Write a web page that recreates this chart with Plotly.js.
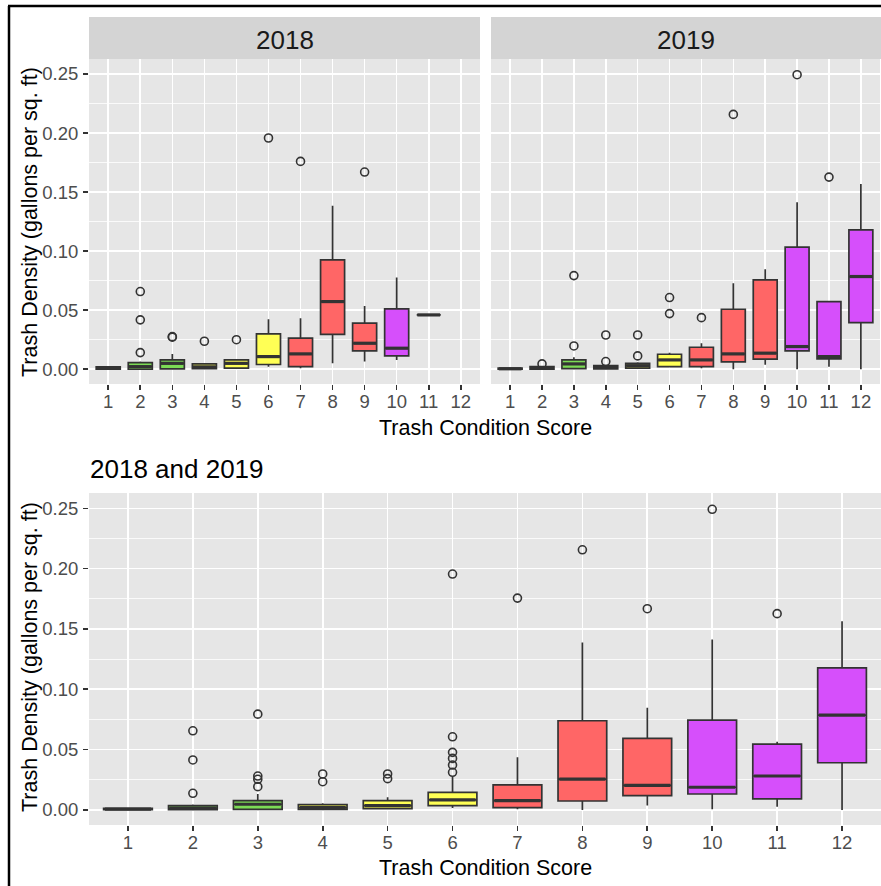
<!DOCTYPE html>
<html>
<head>
<meta charset="utf-8">
<script src="https://cdn.plot.ly/plotly-3.0.1.min.js"></script>
<style>
  html, body { margin: 0; padding: 0; background: #ffffff; }
  #chart { width: 881px; height: 886px; }
</style>
</head>
<body>
<div id="chart"></div>
<script>
// ---------------- data ----------------
const tickLabels = ['1','2','3','4','5','6','7','8','9','10','11','12'];

// 2018 (scores 1-11)
const s2018   = [1, 2, 3, 4, 5, 6, 7, 8, 9, 10, 11];
const lo2018  = [0, 0, 0, 0, 0.0005, 0.0022, 0.0008, 0.005, 0.0065, 0.0079, 0.046];
const q1_2018 = [0, 0, 0.0003, 0.0005, 0.001, 0.004, 0.0022, 0.0296, 0.0155, 0.0113, 0.046];
const md2018  = [0.001, 0.0022, 0.005, 0.002, 0.005, 0.0107, 0.013, 0.0573, 0.022, 0.0178, 0.046];
const q3_2018 = [0.002, 0.0056, 0.0079, 0.0045, 0.0079, 0.0299, 0.0263, 0.0926, 0.039, 0.0511, 0.046];
const hi2018  = [0.0025, 0.0065, 0.013, 0.005, 0.0085, 0.0424, 0.0432, 0.1384, 0.0536, 0.0776, 0.046];
const out2018X = [2, 2, 2, 3, 3, 4, 5, 6, 7, 9];
const out2018Y = [0.0658, 0.0418, 0.0141, 0.0271, 0.0276, 0.0237, 0.025, 0.1958, 0.176, 0.167];

// 2019 (scores 1-12)
const s2019   = [1, 2, 3, 4, 5, 6, 7, 8, 9, 10, 11, 12];
const lo2019  = [0, 0, 0, 0, 0.0005, 0.0015, 0.0008, 0, 0.0037, 0, 0.0022, 0];
const q1_2019 = [0, 0, 0.0005, 0.0003, 0.001, 0.0022, 0.0022, 0.0062, 0.0085, 0.0155, 0.0087, 0.0395];
const md2019  = [0.0004, 0.001, 0.0045, 0.0015, 0.003, 0.0079, 0.0079, 0.013, 0.0136, 0.0192, 0.0107, 0.0785];
const q3_2019 = [0.001, 0.0022, 0.0079, 0.003, 0.005, 0.0127, 0.0186, 0.0508, 0.0757, 0.1034, 0.0573, 0.118];
const hi2019  = [0.0015, 0.003, 0.0101, 0.0035, 0.006, 0.014, 0.022, 0.0729, 0.0847, 0.1415, 0.0573, 0.1568];
const out2019X = [2, 3, 3, 4, 4, 5, 5, 6, 6, 7, 8, 10, 11];
const out2019Y = [0.0045, 0.0793, 0.0197, 0.029, 0.0065, 0.029, 0.0113, 0.0607, 0.0471, 0.0437, 0.2158, 0.2494, 0.1627];

// 2018 and 2019 combined (scores 1-12)
const sAll   = [1, 2, 3, 4, 5, 6, 7, 8, 9, 10, 11, 12];
const loAll  = [0, 0, 0, 0, 0.0005, 0.0015, 0.0005, 0, 0.0036, 0.0005, 0.0027, 0];
const q1All  = [0.0002, 0.0003, 0.0005, 0.0005, 0.0011, 0.0036, 0.0019, 0.0074, 0.0118, 0.0132, 0.0091, 0.0391];
const mdAll  = [0.0007, 0.0015, 0.0047, 0.002, 0.0036, 0.0083, 0.0077, 0.0256, 0.0204, 0.0188, 0.0281, 0.0786];
const q3All  = [0.0013, 0.0036, 0.0077, 0.0044, 0.0077, 0.0146, 0.0207, 0.0739, 0.0593, 0.0744, 0.0546, 0.1177];
const hiAll  = [0.002, 0.0045, 0.0132, 0.0055, 0.0105, 0.0276, 0.0436, 0.1387, 0.0846, 0.1412, 0.0565, 0.1563];
const outAllX = [2, 2, 2, 3, 3, 3, 3, 4, 4, 5, 5, 6, 6, 6, 6, 6, 6, 7, 8, 9, 10, 11];
const outAllY = [0.0656, 0.0414, 0.0138, 0.0794, 0.0281, 0.0254, 0.0193, 0.0298, 0.0234, 0.0298, 0.0259,
                 0.0312, 0.0372, 0.0427, 0.0477, 0.0606, 0.1955, 0.1756, 0.2156, 0.1668, 0.2492, 0.1627];

// ---------------- style ----------------
const fillByScore = ['#7CDB55','#7CDB55','#7CDB55','#FFFF55','#FFFF55','#FFFF55',
                     '#FF6666','#FF6666','#FF6666','#D64FFB','#D64FFB','#D64FFB'];
const INK = '#333333';
const BOX_W = 0.75;
const FONT = 'Liberation Sans, Arial, Helvetica, sans-serif';
const W = 881, H = 886;
const px = v => v / W;
const py = v => 1 - v / H;

// ---------------- traces ----------------
function panelTraces(sc, lo, q1, md, q3, hi, ox, oy, xa, ya) {
  const traces = [];
  const colors = [...new Set(sc.map(s => fillByScore[s - 1]))];
  colors.forEach(col => {
    const idx = sc.map((s, i) => i).filter(i => fillByScore[sc[i] - 1] === col);
    traces.push({
      type: 'box',
      x: idx.map(i => sc[i]),
      q1: idx.map(i => q1[i]),
      median: idx.map(i => md[i]),
      q3: idx.map(i => q3[i]),
      lowerfence: idx.map(i => lo[i]),
      upperfence: idx.map(i => hi[i]),
      width: BOX_W,
      whiskerwidth: 0,
      fillcolor: col,
      line: { color: INK, width: 1.7 },
      boxpoints: false,
      hoverinfo: 'skip',
      showlegend: false,
      xaxis: xa, yaxis: ya
    });
  });
  // thicker median bars (ggplot fatten)
  const mx = [], my = [];
  sc.forEach((s, i) => { mx.push(s - BOX_W / 2 + 0.02, s + BOX_W / 2 - 0.02, null); my.push(md[i], md[i], null); });
  traces.push({
    type: 'scatter', mode: 'lines', x: mx, y: my,
    line: { color: INK, width: 3.2 }, hoverinfo: 'skip', showlegend: false,
    xaxis: xa, yaxis: ya, cliponaxis: false
  });
  traces.push({
    type: 'scatter', mode: 'markers', x: ox, y: oy,
    marker: { symbol: 'circle-open', size: 8, color: INK, line: { width: 1.6, color: INK } },
    hoverinfo: 'skip', showlegend: false, xaxis: xa, yaxis: ya
  });
  return traces;
}

const data = [].concat(
  panelTraces(s2018, lo2018, q1_2018, md2018, q3_2018, hi2018, out2018X, out2018Y, 'x', 'y'),
  panelTraces(s2019, lo2019, q1_2019, md2019, q3_2019, hi2019, out2019X, out2019Y, 'x2', 'y2'),
  panelTraces(sAll, loAll, q1All, mdAll, q3All, hiAll, outAllX, outAllY, 'x3', 'y3')
);

// ---------------- layout ----------------
const yTicks = [0, 0.05, 0.1, 0.15, 0.2, 0.25];
const yRange = [-0.0125, 0.2627];
const tickFont = { family: FONT, size: 18.5, color: '#4D4D4D' };

function xAxis(domain, anchor) {
  return {
    domain: domain, anchor: anchor, range: [0.4, 12.6],
    tickmode: 'array', tickvals: sAll, ticktext: tickLabels,
    showgrid: true, gridcolor: '#FFFFFF', gridwidth: 1.6,
    zeroline: false, showline: false,
    ticks: 'outside', ticklen: 5, tickwidth: 1.6, tickcolor: INK,
    ticklabelstandoff: -4,
    tickfont: tickFont, fixedrange: true
  };
}
function yAxis(domain, anchor, labels) {
  return {
    domain: domain, anchor: anchor, range: yRange,
    tickmode: 'array', tickvals: yTicks, tickformat: '.2f',
    showticklabels: labels,
    showgrid: true, gridcolor: '#FFFFFF', gridwidth: 1.6,
    minor: { tick0: 0.025, dtick: 0.05, showgrid: true, gridcolor: '#FFFFFF', gridwidth: 0.8, ticks: '' },
    zeroline: false, showline: false,
    ticks: labels ? 'outside' : '', ticklen: 5, tickwidth: 1.6, tickcolor: INK,
    ticklabelstandoff: 1,
    tickfont: tickFont, fixedrange: true
  };
}

const topDom = [py(384), py(59)];
const botDom = [py(825), py(493)];

const layout = {
  width: W, height: H,
  margin: { l: 0, r: 0, t: 0, b: 0 },
  paper_bgcolor: '#FFFFFF',
  plot_bgcolor: '#E6E6E6',
  boxmode: 'overlay',
  showlegend: false,
  font: { family: FONT },
  xaxis:  xAxis([px(89), px(480)], 'y'),
  yaxis:  yAxis(topDom, 'x', true),
  xaxis2: xAxis([px(491), px(880)], 'y2'),
  yaxis2: yAxis(topDom, 'x2', false),
  xaxis3: xAxis([px(89), 1], 'y3'),
  yaxis3: yAxis(botDom, 'x3', true),
  shapes: [
    { type: 'rect', xref: 'paper', yref: 'paper', x0: px(89), x1: px(480), y0: py(59), y1: py(17),
      fillcolor: '#D4D4D4', line: { width: 0 }, layer: 'below' },
    { type: 'rect', xref: 'paper', yref: 'paper', x0: px(491), x1: px(881), y0: py(59), y1: py(17),
      fillcolor: '#D4D4D4', line: { width: 0 }, layer: 'below' },
    { type: 'line', xref: 'paper', yref: 'paper', x0: px(8), x1: 1, y0: py(6), y1: py(6),
      line: { color: '#000000', width: 2.5 } },
    { type: 'line', xref: 'paper', yref: 'paper', x0: px(9), x1: px(9), y0: py(6), y1: 0,
      line: { color: '#000000', width: 2.5 } }
  ],
  annotations: [
    { text: '2018', xref: 'paper', yref: 'paper', x: px(284.5), y: py(40), xanchor: 'center', yanchor: 'middle',
      showarrow: false, font: { family: FONT, size: 26, color: '#1A1A1A' } },
    { text: '2019', xref: 'paper', yref: 'paper', x: px(686), y: py(40), xanchor: 'center', yanchor: 'middle',
      showarrow: false, font: { family: FONT, size: 26, color: '#1A1A1A' } },
    { text: 'Trash Condition Score', xref: 'paper', yref: 'paper', x: px(485), y: py(428), xanchor: 'center', yanchor: 'middle',
      showarrow: false, font: { family: FONT, size: 21.5, color: '#000000' } },
    { text: 'Trash Density (gallons per sq. ft)', xref: 'paper', yref: 'paper', x: px(30), y: py(222), xanchor: 'center', yanchor: 'middle',
      textangle: -90, showarrow: false, font: { family: FONT, size: 21.5, color: '#000000' } },
    { text: '2018 and 2019', xref: 'paper', yref: 'paper', x: px(88), y: py(469), xanchor: 'left', yanchor: 'middle',
      showarrow: false, font: { family: FONT, size: 26, color: '#000000' } },
    { text: 'Trash Condition Score', xref: 'paper', yref: 'paper', x: px(485), y: py(868), xanchor: 'center', yanchor: 'middle',
      showarrow: false, font: { family: FONT, size: 21.5, color: '#000000' } },
    { text: 'Trash Density (gallons per sq. ft)', xref: 'paper', yref: 'paper', x: px(30), y: py(657), xanchor: 'center', yanchor: 'middle',
      textangle: -90, showarrow: false, font: { family: FONT, size: 21.5, color: '#000000' } }
  ]
};

Plotly.newPlot('chart', data, layout, { staticPlot: true, displayModeBar: false });
</script>
</body>
</html>
